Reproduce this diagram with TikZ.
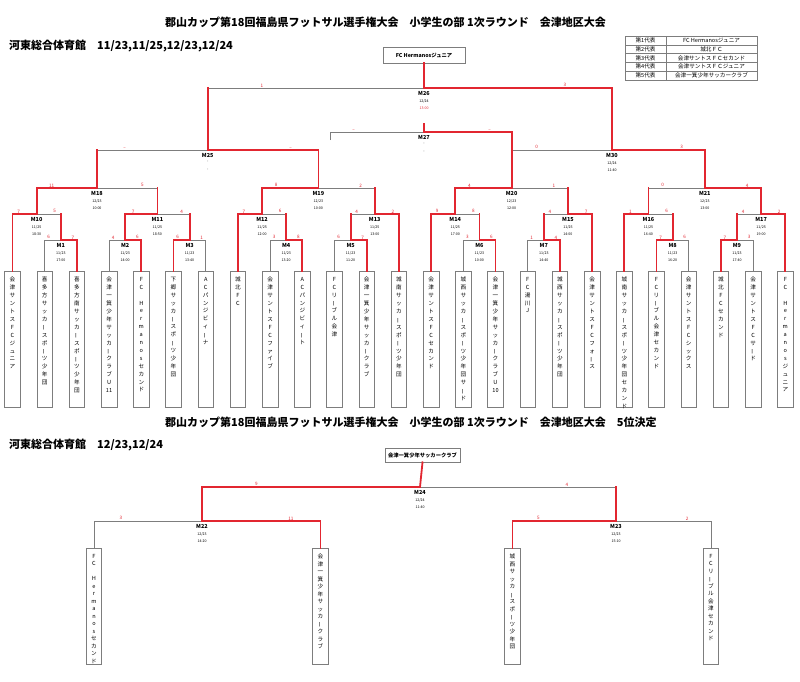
\documentclass[tikz,border=0pt]{standalone}
\usepackage{fontspec}
\usepackage{graphicx}
\setmainfont{Noto Sans CJK JP}
\usetikzlibrary{calc}
\definecolor{bred}{RGB}{226,38,48}
\definecolor{bgrey}{RGB}{125,125,125}
\def\vtstopmark{\vtstop}
\def\vtbarmark{ー}
\newcommand\vtbar{\rotatebox[origin=c]{90}{ー}}
\newcommand\vtstack[2][7.9pt]{\vbox{\baselineskip=#1\lineskiplimit=-20pt\lineskip=0pt\vtaux#2\vtstop}}
\def\vtaux#1{\def\vttmp{#1}\ifx\vttmp\vtstopmark\let\vtnext\relax\else\hbox to 12pt{\hss\ifx\vttmp\vtbarmark\vtbar\else#1\fi\hss}\let\vtnext\vtaux\fi\vtnext}
\tikzset{
  gl/.style={draw=bgrey, line width=0.6pt},
  rl/.style={draw=bred, line width=1.8pt, line cap=rect},
  leafbox/.style={draw=bgrey, line width=0.6pt, minimum width=15.5pt, minimum height=136pt, anchor=north, inner sep=0pt, outer sep=0pt},
  bleafbox/.style={draw=bgrey, line width=0.6pt, minimum width=15.5pt, minimum height=116pt, anchor=north, inner sep=0pt, outer sep=0pt},
  vtext/.style={anchor=north, inner sep=0pt, font=\fontsize{5.6}{7.9}\selectfont},
  mname/.style={font=\bfseries\fontsize{5.5}{6}\selectfont, inner sep=0pt, anchor=north},
  mdate/.style={font=\fontsize{3.6}{4}\selectfont, inner sep=0pt, anchor=north},
  score/.style={font=\fontsize{4.6}{5}\selectfont, text=bred, inner sep=0pt, anchor=south, yshift=0.8pt},
  lgt/.style={font=\fontsize{5.6}{6}\selectfont, inner sep=0pt},
  ttl/.style={font=\bfseries\fontsize{11}{12}\selectfont, inner sep=0pt, anchor=west},
  subttl/.style={font=\bfseries\fontsize{11}{12}\selectfont, inner sep=0pt, anchor=west},
  winbox/.style={draw=bgrey, line width=0.7pt, inner sep=0pt, font=\bfseries\fontsize{5.3}{6}\selectfont}
}
\newcommand\leafnode[3]{\node[leafbox] (#1) at (#2,271) {};\node[vtext] (#1t) at ([yshift=-6pt]#1.north) {\vtstack{#3}};}
\newcommand\bleafnode[3]{\node[bleafbox] (#1) at (#2,548) {};\node[vtext] (#1t) at ([yshift=-6pt]#1.north) {\vtstack[7.5pt]{#3}};}
\newcommand\mlab[4]{\node[mname] (#1n) at ([yshift=-3pt]#1) {#2};\node[mdate] (#1d) at ([yshift=-11.5pt]#1) {#3};\node[mdate] (#1t) at ([yshift=-19pt]#1) {#4};}
\newcommand\scorelab[4]{\node[score] (#1) at ($(#2 |- #3)!0.25!(#3)$) {#4};}
\begin{document}
\begin{tikzpicture}[x=1pt,y=-1pt]
\useasboundingbox (0,0) rectangle (800,681);
% titles
\node[ttl] (title1) at (165,22) {郡山カップ第18回福島県フットサル選手権大会　小学生の部 1次ラウンド　会津地区大会};
\node[subttl] (sub1) at (9,46) {河東総合体育館　11/23,11/25,12/23,12/24};
\node[ttl] (title2) at (165,422) {郡山カップ第18回福島県フットサル選手権大会　小学生の部 1次ラウンド　会津地区大会　5位決定};
\node[subttl] (sub2) at (9,445) {河東総合体育館　12/23,12/24};
% legend
\draw[gl, line width=0.5pt] (625,36) rectangle (757,80);
\draw[gl, line width=0.5pt] (666,36) -- (666,80);
\foreach \yy in {44.8,53.6,62.4,71.2} {\draw[gl, line width=0.5pt] (625,\yy) -- (757,\yy);}
\node[lgt] (l1a) at (645.5,40.4) {第1代表};
\node[lgt] (l1b) at (711.5,40.4) {FC Hermanosジュニア};
\node[lgt] (l2a) at (645.5,49.2) {第2代表};
\node[lgt] (l2b) at (711.5,49.2) {城北ＦＣ};
\node[lgt] (l3a) at (645.5,58.0) {第3代表};
\node[lgt] (l3b) at (711.5,58.0) {会津サントスＦＣセカンド};
\node[lgt] (l4a) at (645.5,66.8) {第4代表};
\node[lgt] (l4b) at (711.5,66.8) {会津サントスＦＣジュニア};
\node[lgt] (l5a) at (645.5,75.6) {第5代表};
\node[lgt] (l5b) at (711.5,75.6) {会津一箕少年サッカークラブ};
% winner boxes
\node[winbox, minimum width=82pt, minimum height=16pt] (champ) at (424,55) {FC Hermanosジュニア};
\node[winbox, minimum width=75pt, minimum height=14pt] (fifth) at (422.5,455) {会津一箕少年サッカークラブ};
% leaves
\leafnode{b1}{12.5}{会津サントスFCジュニア}
\leafnode{b2}{44.7}{喜多方サッカースポーツ少年団}
\leafnode{b3}{76.9}{喜多方南サッカースポーツ少年団}
\leafnode{b4}{109.1}{会津一箕少年サッカークラブU{11}}
\leafnode{b5}{141.3}{FC~Hermanosセカンド}
\leafnode{b6}{173.5}{下郷サッカースポーツ少年団}
\leafnode{b7}{205.7}{ACパンジビィーナ}
\leafnode{b8}{237.9}{城北FC}
\leafnode{b9}{270.1}{会津サントスFCファイブ}
\leafnode{b10}{302.3}{ACパンジビィート}
\leafnode{b11}{334.5}{FCリーブル会津}
\leafnode{b12}{366.7}{会津一箕少年サッカークラブ}
\leafnode{b13}{398.9}{城南サッカースポーツ少年団}
\leafnode{b14}{431.1}{会津サントスFCセカンド}
\leafnode{b15}{463.3}{城西サッカースポーツ少年団サード}
\leafnode{b16}{495.5}{会津一箕少年サッカークラブU{10}}
\leafnode{b17}{527.7}{FC湯川J}
\leafnode{b18}{559.9}{城西サッカースポーツ少年団}
\leafnode{b19}{592.1}{会津サントスFCフォース}
\leafnode{b20}{624.3}{城南サッカースポーツ少年団セカンド}
\leafnode{b21}{656.5}{FCリーブル会津セカンド}
\leafnode{b22}{688.7}{会津サントスFCシックス}
\leafnode{b23}{720.9}{城北FCセカンド}
\leafnode{b24}{753.1}{会津サントスFCサード}
\leafnode{b25}{785.3}{FC~Hermanosジュニア}
\bleafnode{bb1}{94}{FC~Hermanosセカンド}
\bleafnode{bb2}{320.5}{会津一箕少年サッカークラブ}
\bleafnode{bb3}{512.5}{城西サッカースポーツ少年団}
\bleafnode{bb4}{711}{FCリーブル会津セカンド}
% match junctions
\coordinate (m1) at (60.8,240);
\coordinate (m2) at (125.2,240);
\coordinate (m3) at (189.6,240);
\coordinate (m4) at (286.2,240);
\coordinate (m5) at (350.6,240);
\coordinate (m6) at (479.4,240);
\coordinate (m7) at (543.8,240);
\coordinate (m8) at (672.6,240);
\coordinate (m9) at (737.0,240);
\coordinate (m10) at (36.65,214);
\coordinate (m11) at (157.4,214);
\coordinate (m12) at (262.05,214);
\coordinate (m13) at (374.75,214);
\coordinate (m14) at (455.25,214);
\coordinate (m15) at (567.95,214);
\coordinate (m16) at (648.45,214);
\coordinate (m17) at (761.15,214);
\coordinate (m18) at (97.0,188);
\coordinate (m19) at (318.4,188);
\coordinate (m20) at (511.6,188);
\coordinate (m21) at (704.8,188);
\coordinate (m25) at (207.7,150);
\coordinate (m30) at (612,150);
\coordinate (m26) at (424,88);
\coordinate (m27) at (424,132);
\coordinate (m27l) at (330,140);
\coordinate (m27r) at (m20 |- m30);
\coordinate (m27top) at (424,124);
\coordinate (m22) at (202,521);
\coordinate (m23) at (616,521);
\coordinate (m24) at (420,487);
% grey (losing) connectors
\draw[gl] (b2.north) |- (m1);
\draw[gl] (b4.north) |- (m2);
\draw[gl] (b7.north) |- (m3);
\draw[gl] (b9.north) |- (m4);
\draw[gl] (b11.north) |- (m5);
\draw[gl] (b15.north) |- (m6);
\draw[gl] (b17.north) |- (m7);
\draw[gl] (b22.north) |- (m8);
\draw[gl] (b24.north) |- (m9);
\draw[gl] (m1) |- (m10);
\draw[gl] (m3) |- (m11);
\draw[gl] (m4) |- (m12);
\draw[gl] (m5) |- (m13);
\draw[gl] (m6) |- (m14);
\draw[gl] (m7) |- (m15);
\draw[gl] (m8) |- (m16);
\draw[gl] (m9) |- (m17);
\draw[gl] (m11) |- (m18);
\draw[gl] (m13) |- (m19);
\draw[gl] (m15) |- (m20);
\draw[gl] (m16) |- (m21);
\draw[gl] (m18) |- (m25);
\draw[gl] (m20) |- (m30);
\draw[gl] (m25) |- (m26);
\draw[gl] (m27l) |- (m27);
\draw[gl] (bb1.north) |- (m22);
\draw[gl] (bb4.north) |- (m23);
\draw[gl] (m23) |- (m24);
% red (winning) connectors
\draw[rl] (b3.north) |- (m1);
\draw[rl] (b5.north) |- (m2);
\draw[rl] (b6.north) |- (m3);
\draw[rl] (b10.north) |- (m4);
\draw[rl] (b12.north) |- (m5);
\draw[rl] (b16.north) |- (m6);
\draw[rl] (b18.north) |- (m7);
\draw[rl] (b21.north) |- (m8);
\draw[rl] (b23.north) |- (m9);
\draw[rl] (b1.north) |- (m10);
\draw[rl] (m2) |- (m11);
\draw[rl] (b8.north) |- (m12);
\draw[rl] (b13.north) |- (m13);
\draw[rl] (b14.north) |- (m14);
\draw[rl] (b19.north) |- (m15);
\draw[rl] (b20.north) |- (m16);
\draw[rl] (b25.north) |- (m17);
\draw[rl] (m10) |- (m18);
\draw[rl] (m12) |- (m19);
\draw[rl] (m14) |- (m20);
\draw[rl] (m17) |- (m21);
\draw[rl] (m19) |- (m25);
\draw[rl] (m21) |- (m30);
\draw[rl] (m30) |- (m26);
\draw[rl] (champ.south) -- (m26);
\draw[rl] (m27r) |- (m27);
\draw[rl] (m27top) -- (m27);
\foreach \c/\p in {m1/m10,m3/m11,m4/m12,m5/m13,m6/m14,m7/m15,m8/m16,m9/m17,m11/m18,m13/m19,m15/m20,m16/m21,m18/m25,m20/m30,m25/m26} {\draw[rl] (\c) -- (\c |- \p);}
\draw[rl] (bb2.north) |- (m22);
\draw[rl] (bb3.north) |- (m23);
\draw[rl] (m22) |- (m24);
\draw[rl] (m23) -- (m23 |- m24);
\draw[rl] (fifth.south) -- (m24);
% match labels
\mlab{m1}{M1}{11/23}{17:00}
\mlab{m2}{M2}{11/23}{14:00}
\mlab{m3}{M3}{11/23}{13:40}
\mlab{m4}{M4}{11/23}{13:20}
\mlab{m5}{M5}{11/23}{11:20}
\mlab{m6}{M6}{11/23}{10:00}
\mlab{m7}{M7}{11/23}{14:40}
\mlab{m8}{M8}{11/23}{16:20}
\mlab{m9}{M9}{11/23}{17:40}
\mlab{m10}{M10}{11/25}{18:30}
\mlab{m11}{M11}{11/25}{18:50}
\mlab{m12}{M12}{11/25}{12:00}
\mlab{m13}{M13}{11/25}{13:00}
\mlab{m14}{M14}{11/25}{17:00}
\mlab{m15}{M15}{11/25}{14:00}
\mlab{m16}{M16}{11/25}{16:40}
\mlab{m17}{M17}{11/25}{19:00}
\mlab{m18}{M18}{12/23}{10:00}
\mlab{m19}{M19}{12/23}{10:00}
\mlab{m20}{M20}{12/23}{12:00}
\mlab{m21}{M21}{12/23}{13:00}
\mlab{m25}{M25}{-}{-}
\mlab{m30}{M30}{12/24}{11:40}
\mlab{m27}{M27}{-}{-}
\node[mname] (m26n) at ([yshift=-3pt]m26) {M26};
\node[mdate] (m26d) at ([yshift=-11.5pt]m26) {12/24};
\node[mdate, text=bred] (m26t) at ([yshift=-19pt]m26) {13:00};
\mlab{m22}{M22}{12/23}{14:20}
\mlab{m23}{M23}{12/23}{15:10}
\mlab{m24}{M24}{12/24}{11:40}
% scores
\scorelab{s1a}{b2.north}{m1}{6}\scorelab{s1b}{b3.north}{m1}{7}
\scorelab{s2a}{b4.north}{m2}{4}\scorelab{s2b}{b5.north}{m2}{6}
\scorelab{s3a}{b6.north}{m3}{6}\scorelab{s3b}{b7.north}{m3}{1}
\scorelab{s4a}{b9.north}{m4}{3}\scorelab{s4b}{b10.north}{m4}{8}
\scorelab{s5a}{b11.north}{m5}{6}\scorelab{s5b}{b12.north}{m5}{7}
\scorelab{s6a}{b15.north}{m6}{3}\scorelab{s6b}{b16.north}{m6}{6}
\scorelab{s7a}{b17.north}{m7}{1}\scorelab{s7b}{b18.north}{m7}{4}
\scorelab{s8a}{b21.north}{m8}{7}\scorelab{s8b}{b22.north}{m8}{6}
\scorelab{s9a}{b23.north}{m9}{7}\scorelab{s9b}{b24.north}{m9}{3}
\scorelab{s10a}{b1.north}{m10}{7}\scorelab{s10b}{m1}{m10}{5}
\scorelab{s11a}{m2}{m11}{7}\scorelab{s11b}{m3}{m11}{4}
\scorelab{s12a}{b8.north}{m12}{7}\scorelab{s12b}{m4}{m12}{6}
\scorelab{s13a}{m5}{m13}{4}\scorelab{s13b}{b13.north}{m13}{2}
\scorelab{s14a}{b14.north}{m14}{9}\scorelab{s14b}{m6}{m14}{8}
\scorelab{s15a}{m7}{m15}{4}\scorelab{s15b}{b19.north}{m15}{7}
\scorelab{s16a}{b20.north}{m16}{1}\scorelab{s16b}{m8}{m16}{6}
\scorelab{s17a}{m9}{m17}{4}\scorelab{s17b}{b25.north}{m17}{2}
\scorelab{s18a}{m10}{m18}{11}\scorelab{s18b}{m11}{m18}{5}
\scorelab{s19a}{m12}{m19}{8}\scorelab{s19b}{m13}{m19}{2}
\scorelab{s20a}{m14}{m20}{4}\scorelab{s20b}{m15}{m20}{1}
\scorelab{s21a}{m16}{m21}{0}\scorelab{s21b}{m17}{m21}{4}
\scorelab{s25a}{m18}{m25}{–}\scorelab{s25b}{m19}{m25}{–}
\scorelab{s30a}{m20}{m30}{0}\scorelab{s30b}{m21}{m30}{3}
\scorelab{s26a}{m25}{m26}{1}\scorelab{s26b}{m30}{m26}{3}
\scorelab{s27a}{m27l}{m27}{–}\scorelab{s27b}{m27r}{m27}{–}
\scorelab{s22a}{bb1.north}{m22}{3}\scorelab{s22b}{bb2.north}{m22}{11}
\scorelab{s23a}{bb3.north}{m23}{5}\scorelab{s23b}{bb4.north}{m23}{2}
\scorelab{s24a}{m22}{m24}{9}\scorelab{s24b}{m23}{m24}{4}
\end{tikzpicture}
\end{document}
